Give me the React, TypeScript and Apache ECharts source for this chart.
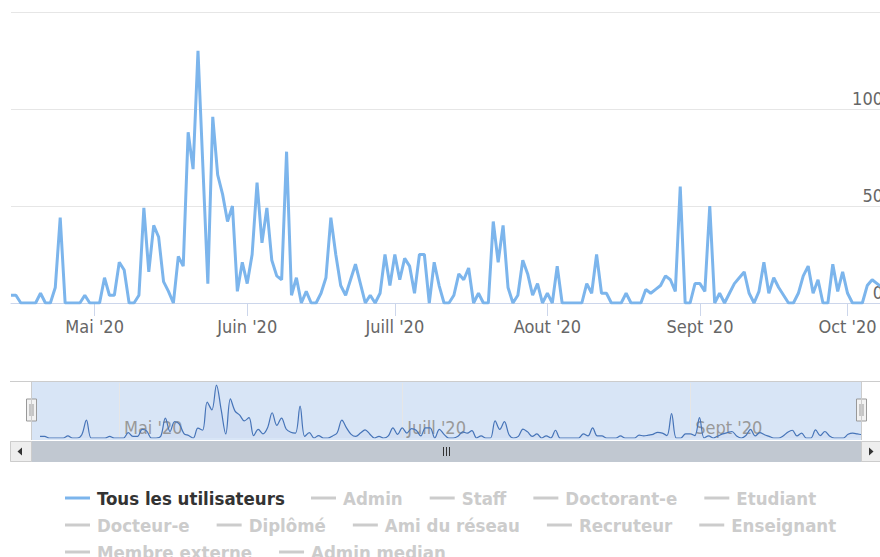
import React, { useEffect, useRef } from 'react';
import * as echarts from 'echarts';

// ---- data ----
const startDate = '2020-04-14';
const values: number[] = [
  4, 4, 0, 0, 0, 0, 5, 0, 0, 8,
  44, 0, 0, 0, 0, 4, 0, 0, 0, 13,
  4, 4, 21, 17, 0, 0, 4, 49, 16, 40,
  34, 11, 6, 0, 24, 19, 88, 69, 130, 70,
  10, 96, 66, 56, 42, 50, 6, 21, 10, 25,
  62, 31, 49, 22, 14, 12, 78, 4, 13, 0,
  6, 0, 0, 5, 13, 44, 25, 9, 4, 12,
  20, 10, 0, 4, 0, 5, 25, 9, 25, 12,
  23, 19, 5, 25, 25, 0, 21, 9, 0, 0,
  4, 15, 12, 18, 0, 5, 0, 0, 42, 21,
  40, 8, 0, 4, 22, 15, 4, 10, 0, 5,
  0, 19, 0, 0, 0, 0, 0, 10, 5, 25,
  5, 5, 0, 0, 0, 5, 0, 0, 0, 7,
  5, 7, 9, 14, 12, 6, 60, 0, 0, 10,
  10, 6, 50, 0, 5, 0, 5, 10, 13, 16,
  5, 0, 6, 21, 5, 13, 8, 4, 0, 0,
  5, 14, 19, 5, 12, 0, 0, 20, 6, 16,
  5, 0, 0, 0, 9, 12, 10, 8,
];
const monthLabels = ['Janv', 'Févr', 'Mars', 'Avr', 'Mai', 'Juin', 'Juill', 'Aout', 'Sept', 'Oct', 'Nov', 'Déc'];
const yMin = 0;
const yMax = 150;
const yStep = 50;
const navigatorMonths = [5, 7, 9];
const legendRow1a = ['Tous les utilisateurs'];
const legendRow1b = ['Admin', 'Staff', 'Doctorant-e', 'Etudiant'];
const legendRow2 = ['Docteur-e', 'Diplômé', 'Ami du réseau', 'Recruteur', 'Enseignant'];
const legendRow3 = ['Membre externe', 'Admin median'];
const mainSeriesName = 'Tous les utilisateurs';

const [sy, sm, sd] = startDate.split('-').map(Number);
const categories: string[] = values.map((_, i) =>
  new Date(Date.UTC(sy, sm - 1, sd + i)).toISOString().slice(0, 10)
);

const FONT = '"DejaVu Sans Condensed", "DejaVu Sans", sans-serif';
const isMonthStart = (v: string) => v.slice(8) === '01';
const fmtMonth = (v: string) => `${monthLabels[+v.slice(5, 7) - 1]} '${v.slice(2, 4)}`;

export default function App() {
  const ref = useRef<HTMLDivElement>(null);
  useEffect(() => {
    if (!ref.current) return;
    const chart = echarts.init(ref.current, undefined, { renderer: 'svg' });
    const allNames = [...legendRow1a, ...legendRow1b, ...legendRow2, ...legendRow3];
    const hidden = allNames.filter((n) => n !== mainSeriesName);
    const selected: Record<string, boolean> = {};
    hidden.forEach((n) => (selected[n] = false));
    const legendBase = {
      icon: 'rect',
      itemWidth: 25,
      itemHeight: 3,
      itemGap: 27,
      padding: 0,
      orient: 'horizontal',
      inactiveColor: '#cccccc',
      selected,
      textStyle: {
        fontFamily: FONT,
        fontWeight: 'bold',
        fontSize: 18.5,
        color: '#333333',
        lineHeight: 22,
        padding: [0, 0, 0, 2],
      },
    };

    const handle = (cx: number) => ({
      type: 'group',
      z: 100,
      children: [
        { type: 'rect', shape: { x: cx - 5, y: 399, width: 10, height: 22 }, style: { fill: '#f2f2f2', stroke: '#999999', lineWidth: 1 } },
        { type: 'line', shape: { x1: cx - 1.5, y1: 404, x2: cx - 1.5, y2: 416 }, style: { stroke: '#999999', lineWidth: 1 } },
        { type: 'line', shape: { x1: cx + 1.5, y1: 404, x2: cx + 1.5, y2: 416 }, style: { stroke: '#999999', lineWidth: 1 } },
      ],
    });

    const option: any = {
      animation: false,
      backgroundColor: '#ffffff',
      grid: [
        { left: 11, top: 12, width: 871, height: 291, containLabel: false },
        { left: 40, top: 383, width: 822, height: 55, containLabel: false },
      ],
      xAxis: [
        {
          type: 'category',
          gridIndex: 0,
          data: categories,
          boundaryGap: false,
          axisLine: { lineStyle: { color: '#ccd6eb', width: 1 } },
          axisTick: {
            interval: (_i: number, v: string) => isMonthStart(v),
            length: 13,
            lineStyle: { color: '#ccd6eb' },
          },
          axisLabel: {
            interval: (_i: number, v: string) => isMonthStart(v),
            formatter: fmtMonth,
            color: '#666666',
            fontSize: 18,
            fontFamily: FONT,
            margin: 14,
          },
          splitLine: { show: false },
        },
        {
          type: 'category',
          gridIndex: 1,
          data: categories,
          boundaryGap: false,
          axisLine: { show: false },
          axisTick: { show: false },
          axisLabel: {
            inside: true,
            interval: (_i: number, v: string) => isMonthStart(v) && navigatorMonths.includes(+v.slice(5, 7)),
            formatter: fmtMonth,
            color: '#999999',
            fontSize: 18,
            fontFamily: FONT,
            align: 'left',
            verticalAlign: 'bottom',
            padding: [0, 0, 0, 5],
            margin: 2,
          },
          splitLine: {
            show: true,
            interval: (_i: number, v: string) => isMonthStart(v) && navigatorMonths.includes(+v.slice(5, 7)),
            lineStyle: { color: '#e6e6e6' },
          },
        },
      ],
      yAxis: [
        {
          type: 'value',
          gridIndex: 0,
          position: 'right',
          min: yMin,
          max: yMax,
          interval: yStep,
          axisLine: { show: false },
          axisTick: { show: false },
          axisLabel: {
            inside: true,
            margin: -1,
            showMaxLabel: false,
            verticalAlign: 'bottom',
            padding: [0, 0, 2, 0],
            color: '#666666',
            fontSize: 18,
            fontFamily: FONT,
          },
          splitLine: { lineStyle: { color: '#e6e6e6', width: 1 } },
        },
        {
          type: 'value',
          gridIndex: 1,
          min: 0,
          max: 135,
          show: false,
          splitLine: { show: false },
        },
      ],
      legend: [
        { ...legendBase, data: legendRow1a, left: 65, top: 487 },
        { ...legendBase, data: legendRow1b, left: 311, top: 487 },
        { ...legendBase, data: legendRow2, left: 65, top: 514 },
        { ...legendBase, data: legendRow3, left: 65, top: 541 },
      ],
      series: [
        {
          name: mainSeriesName,
          type: 'line',
          xAxisIndex: 0,
          yAxisIndex: 0,
          data: values,
          showSymbol: false,
          symbol: 'none',
          lineStyle: { width: 3, color: '#7cb5ec' },
          itemStyle: { color: '#7cb5ec' },
          z: 3,
        },
        {
          name: '__navigator__',
          type: 'line',
          xAxisIndex: 1,
          yAxisIndex: 1,
          data: values,
          smooth: 0.35,
          showSymbol: false,
          symbol: 'none',
          silent: true,
          lineStyle: { width: 1.2, color: '#4674b8' },
          areaStyle: { color: 'rgba(51,92,173,0.05)' },
          z: 3,
        },
        ...hidden.map((n) => ({
          name: n,
          type: 'line',
          xAxisIndex: 0,
          yAxisIndex: 0,
          data: [],
          showSymbol: false,
          lineStyle: { width: 3 },
        })),
      ],
      graphic: [
        { type: 'rect', z: -10, shape: { x: 31, y: 381, width: 830, height: 59 }, style: { fill: '#d8e5f6' }, silent: true },
        { type: 'line', z: 50, shape: { x1: 10, y1: 381.5, x2: 890, y2: 381.5 }, style: { stroke: '#cccccc', lineWidth: 1 } },
        { type: 'line', z: 50, shape: { x1: 31.5, y1: 381, x2: 31.5, y2: 440 }, style: { stroke: '#cccccc', lineWidth: 1 } },
        { type: 'line', z: 50, shape: { x1: 861.5, y1: 381, x2: 861.5, y2: 440 }, style: { stroke: '#cccccc', lineWidth: 1 } },
        handle(31.5),
        handle(861.5),
        // scrollbar
        { type: 'rect', z: 50, shape: { x: 10.5, y: 441.5, width: 870, height: 20 }, style: { fill: '#f2f2f2', stroke: '#dddddd', lineWidth: 1 } },
        { type: 'rect', z: 51, shape: { x: 31.5, y: 441.5, width: 830, height: 20 }, style: { fill: '#c1c8d1', stroke: '#c1c8d1', lineWidth: 1 } },
        { type: 'rect', z: 51, shape: { x: 10.5, y: 441.5, width: 21, height: 20 }, style: { fill: '#eeeeee', stroke: '#cccccc', lineWidth: 1 } },
        { type: 'polygon', z: 52, shape: { points: [[22, 447.5], [22, 455.5], [17.5, 451.5]] }, style: { fill: '#333333' } },
        { type: 'rect', z: 51, shape: { x: 861.5, y: 441.5, width: 21, height: 20 }, style: { fill: '#eeeeee', stroke: '#cccccc', lineWidth: 1 } },
        { type: 'polygon', z: 52, shape: { points: [[869, 447.5], [869, 455.5], [873.5, 451.5]] }, style: { fill: '#333333' } },
        { type: 'line', z: 52, shape: { x1: 443.5, y1: 447, x2: 443.5, y2: 456 }, style: { stroke: '#333333', lineWidth: 1 } },
        { type: 'line', z: 52, shape: { x1: 446.5, y1: 447, x2: 446.5, y2: 456 }, style: { stroke: '#333333', lineWidth: 1 } },
        { type: 'line', z: 52, shape: { x1: 449.5, y1: 447, x2: 449.5, y2: 456 }, style: { stroke: '#333333', lineWidth: 1 } },
      ],
    };
    chart.setOption(option);
    return () => chart.dispose();
  }, []);

  return (
    <div style={{ position: 'fixed', left: 0, top: 0, width: 880, height: 557, overflow: 'hidden', background: '#ffffff' }}>
      <div ref={ref} style={{ width: 900, height: 557 }} />
    </div>
  );
}
